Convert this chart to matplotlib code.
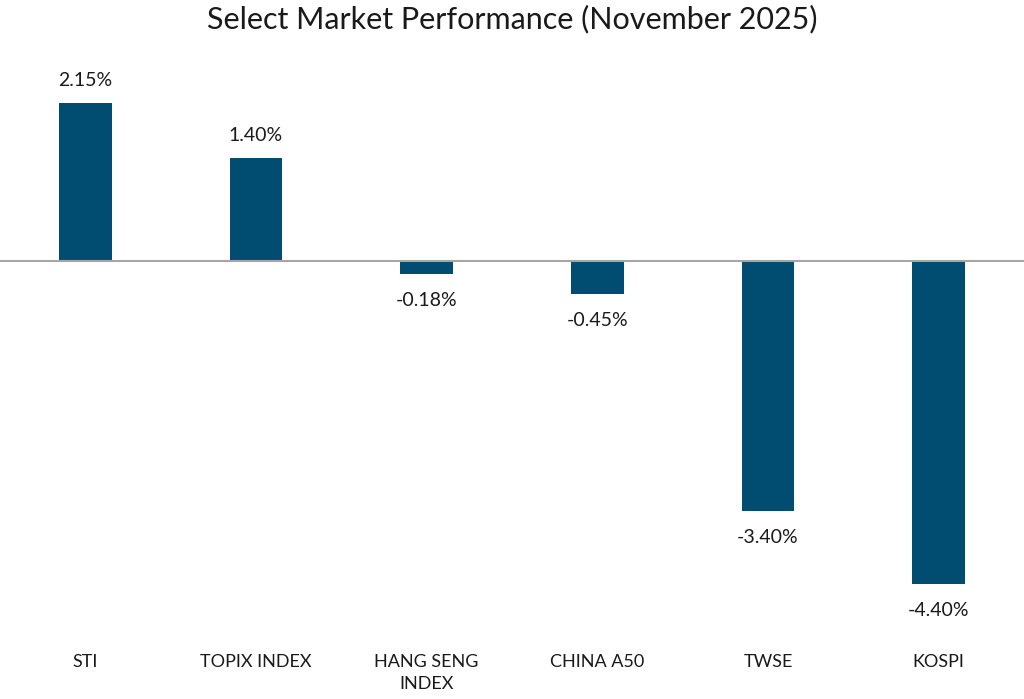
import matplotlib
matplotlib.use("Agg")
import matplotlib.pyplot as plt

# data
markets = ["STI", "TOPIX INDEX", "HANG SENG\nINDEX", "CHINA A50", "TWSE", "KOSPI"]
returns = [2.15, 1.40, -0.18, -0.45, -3.40, -4.40]
labels = ["2.15%", "1.40%", "-0.18%", "-0.45%", "-3.40%", "-4.40%"]

plt.rcParams['font.family'] = ['Lato', 'DejaVu Sans']
bar_color = "#004D71"
text_color = "#1a1a1a"

fig = plt.figure(figsize=(10.24, 6.99), dpi=100)
ax = fig.add_axes([0.0, 0.0844, 1.0, 0.8298])

x = list(range(len(markets)))
ax.bar(x, returns, width=0.31, color=bar_color)
ax.axhline(0, color="#A6A6A6", linewidth=1.5, zorder=3)

for xi, v, lab in zip(x, returns, labels):
    off = 16 if v >= 0 else -19
    ax.annotate(lab, (xi, v), xytext=(0, off), textcoords="offset points",
                ha="center", va="center", fontsize=14, color=text_color)

ax.set_xlim(-0.5, 5.5)
ax.set_ylim(-5.156, 2.735)
ax.set_xticks(x)
ax.set_xticklabels(markets, fontsize=13, color=text_color, linespacing=1.5)
ax.tick_params(axis="x", length=0, pad=10)
ax.set_yticks([])
for s in ax.spines.values():
    s.set_visible(False)

fig.text(0.5, 0.972, "Select Market Performance (November 2025)", ha="center",
         va="center", fontsize=22, color=text_color)

fig.savefig("out.png", dpi=100)
